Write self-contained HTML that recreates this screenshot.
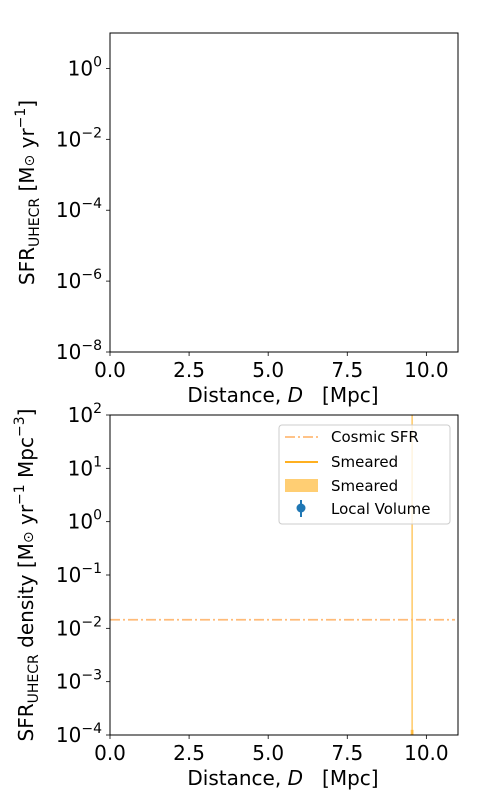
<!DOCTYPE html>
<html><head><meta charset="utf-8"><style>body{margin:0;background:#fff}svg{display:block;font-family:"DejaVu Sans","Liberation Sans",sans-serif}</style></head>
<body>
<svg id="c" width="500" height="800" xmlns="http://www.w3.org/2000/svg"></svg>
<script>
const xTicks=[0,2.5,5,7.5,10];
const xTickLabels=["0.0","2.5","5.0","7.5","10.0"];
const topYExp=[-8,-6,-4,-2,0];
const botYExp=[-4,-3,-2,-1,0,1,2];
const cosmicSFR=[0.0145];
const smearedD=[9.55];
const bandD=[9.55];
const bandLow=[1e-4];
const bandHigh=[1.25e-4];
const NS="http://www.w3.org/2000/svg";
const svg=document.getElementById('c');
function mk(t,a,p){const e=document.createElementNS(NS,t);for(const k in a)e.setAttribute(k,a[k]);(p||svg).appendChild(e);return e;}
const L=110,R=458;
const xs=v=>L+(v/11)*(R-L);
function panel(top,bot,ymin,ymax,name){
  const g=mk('g',{});
  const ys=v=>bot-(Math.log10(v)-ymin)/(ymax-ymin)*(bot-top);
  return {g,ys};
}
function axes(p,top,bot,ymin,ymax,exps,ytitle,yt){
  const {g,ys}=p;
  exps.forEach(e=>{const y=ys(Math.pow(10,e));mk('line',{x1:L,x2:L-4,y1:y,y2:y,stroke:'#000','stroke-width':0.8},g);
    const t=mk('text',{x:L-8,y:y+7,'text-anchor':'end','font-size':20},g);t.innerHTML='10<tspan dy="-9" font-size="14">'+(e<0?'−'+(-e):e)+'</tspan>';
    });
  xTicks.forEach((v,i)=>{const x=xs(v);mk('line',{x1:x,x2:x,y1:bot,y2:bot+4,stroke:'#000','stroke-width':0.8},g);
    const t=mk('text',{x:x,y:bot+25,'text-anchor':'middle','font-size':20},g);t.textContent=xTickLabels[i];
    });
  const xt=mk('text',{x:(L+R)/2-1,y:bot+50,'text-anchor':'middle','font-size':20,'xml:space':'preserve',style:'white-space:pre'},g);
  xt.innerHTML='Distance, <tspan font-style="italic">D</tspan>   [Mpc]';
  
  const yy=mk('text',{transform:`translate(${yt},${(top+bot)/2}) rotate(-90)`,'text-anchor':'middle','font-size':20},g);
  yy.innerHTML=ytitle;
}
const p1=panel(33,352,-8,1,'top-panel');
axes(p1,33,352,-8,1,topYExp,'SFR<tspan dy="5" font-size="14">UHECR</tspan><tspan dy="-5"> [M</tspan><tspan font-size="14">⊙</tspan> yr<tspan dy="-9" font-size="14">−1</tspan><tspan dy="9">]</tspan>',34);
mk('rect',{x:L,y:33,width:R-L,height:319,fill:'none',stroke:'#000','stroke-width':1},p1.g);
const p2=panel(415,735,-4,2,'bottom-panel');
const ys2=p2.ys;
bandD.forEach((d,i)=>{const r=mk('rect',{x:xs(d)-1.5,y:ys2(bandHigh[i]),width:3,height:ys2(bandLow[i])-ys2(bandHigh[i]),fill:'orange','fill-opacity':0.55},p2.g);
  });
smearedD.forEach(d=>{const l=mk('line',{x1:xs(d),x2:xs(d),y1:415,y2:735,stroke:'orange','stroke-width':1.5,'stroke-opacity':0.6},p2.g);
  });
cosmicSFR.forEach(v=>{const l=mk('line',{x1:L,x2:R-3,y1:ys2(v),y2:ys2(v),stroke:'#ffbb78','stroke-width':1.8,'stroke-dasharray':'10 3 2 3'},p2.g);
  });
axes(p2,415,735,-4,2,botYExp,'SFR<tspan dy="5" font-size="14">UHECR</tspan><tspan dy="-5"> density [M</tspan><tspan font-size="14">⊙</tspan> yr<tspan dy="-9" font-size="14">−1</tspan><tspan dy="9"> Mpc</tspan><tspan dy="-9" font-size="14">−3</tspan><tspan dy="9">]</tspan>',33);
mk('rect',{x:L,y:415,width:R-L,height:320,fill:'none',stroke:'#000','stroke-width':1},p2.g);
const lg=mk('g',{});
mk('rect',{x:279,y:425,width:171,height:99,rx:3,fill:'#fff','fill-opacity':0.8,stroke:'#ccc'},lg);
mk('line',{x1:285,x2:318,y1:437,y2:437,stroke:'#ffbb78','stroke-width':1.8,'stroke-dasharray':'10 3 2 3'},lg);
mk('line',{x1:285,x2:318,y1:462,y2:462,stroke:'orange','stroke-width':1.8},lg);
mk('rect',{x:285,y:479,width:33,height:13,fill:'orange','fill-opacity':0.55},lg);
mk('line',{x1:301,x2:301,y1:500,y2:517,stroke:'#1f77b4','stroke-width':2},lg);
mk('circle',{cx:301,cy:508,r:4.5,fill:'#1f77b4'},lg);
[["Cosmic SFR",442],["Smeared",467],["Smeared",491],["Local Volume",514]].forEach(([t,y])=>{const e=mk('text',{x:331,y:y,'font-size':15},lg);e.textContent=t;
  });
</script>
</body></html>
